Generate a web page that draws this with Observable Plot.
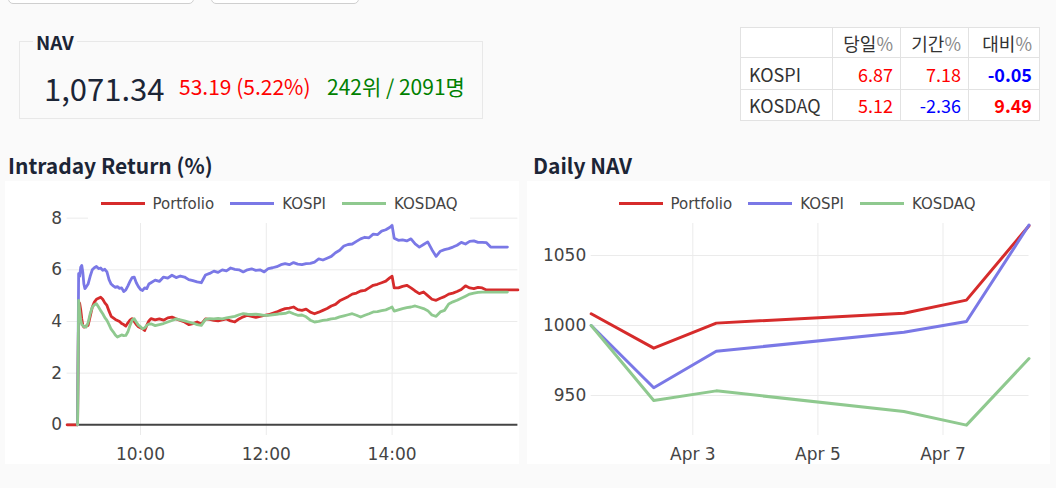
<!DOCTYPE html>
<html>
<head>
<meta charset="utf-8">
<script src="https://cdn.jsdelivr.net/npm/d3@7"></script>
<script src="https://cdn.jsdelivr.net/npm/@observablehq/plot@0.6"></script>
<style>
  html, body { margin: 0; padding: 0; background: #fafafa; }
  #page { position: relative; width: 1056px; height: 488px; overflow: hidden; font-family: "Noto Sans CJK KR", "Noto Sans", sans-serif; color: #1c2536; }
  .abs { position: absolute; }
  .tab-btn { position: absolute; top: -40px; height: 42px; border: 1px solid #cfcfcf; border-radius: 5px; background: #fff; }
  #navbox { left: 19px; top: 41px; width: 462px; height: 76px; border: 1px solid #e8e8e8; }
  #navlabel { left: 33px; top: 32px; padding: 0 3px; font-size: 19px; line-height: 19px; font-weight: 700; background: #fafafa; }
  #navvalue { left: 44px; top: 72px; font-size: 31px; line-height: 31px; color: #1c2536; }
  #navchange { left: 179px; top: 76px; font-size: 21px; line-height: 21px; color: #f00; }
  #navrank { left: 327px; top: 76px; font-size: 21px; line-height: 21px; color: #008000; }
  table.idx { position: absolute; left: 740px; top: 27px; width: 299px; table-layout: fixed; border-collapse: collapse; background: #fff; font-size: 18px; color: #333; }
  table.idx td { border: 1px solid #e2e2e2; padding: 0 7px; text-align: right; white-space: nowrap; overflow: hidden; }
  table.idx td.name { text-align: left; padding-left: 8px; }
  table.idx .pct { color: #888; }
  .title { font-size: 21px; line-height: 22px; font-weight: 700; color: #1c2536; }
  .chartbox { position: absolute; top: 181px; height: 283px; background: #fff; }
  .chartbox svg, .chartbox svg text { font-family: "DejaVu Sans", sans-serif !important; }
  .legend { position: absolute; top: 184px; height: 39px; background: #fff; display: flex; align-items: center; justify-content: center; font-family: "DejaVu Sans", sans-serif; font-size: 15px; color: #444; }
  .legend .item { display: flex; align-items: center; margin: 0 8px; }
  .legend .sw { display: inline-block; width: 44px; height: 3px; margin-right: 8px; }
</style>
</head>
<body>
<div id="page">
  <div class="tab-btn" style="left:8px;width:184px"></div>
  <div class="tab-btn" style="left:211px;width:146px"></div>

  <div id="navbox" class="abs"></div>
  <div id="navlabel" class="abs">NAV</div>
  <div id="navvalue" class="abs"></div>
  <div id="navchange" class="abs"></div>
  <div id="navrank" class="abs"></div>

  <table class="idx" id="idxTable"></table>

  <div class="abs title" style="left:8px;top:154px">Intraday Return (%)</div>
  <div class="abs title" style="left:533px;top:154px">Daily NAV</div>

  <div class="chartbox" id="intraday" style="left:5px;width:514px"></div>
  <div class="chartbox" id="daily" style="left:527px;width:523px"></div>
  <div class="legend" id="legendIntraday" style="left:88px;width:382px"></div>
  <div class="legend" id="legendDaily" style="left:606px;width:382px"></div>
</div>
<script>
// ---- summary figures ----
const navValue = 1071.34;
const navChange = 53.19;
const navChangePct = 5.22;
const navRank = 242;
const navParticipants = 2091;

// index comparison table: 당일% / 기간% / 대비%
const indexNames = ["KOSPI", "KOSDAQ"];
const indexDayPct = [6.87, 5.12];
const indexPeriodPct = [7.18, -2.36];
const indexDiffPct = [-0.05, 9.49];
const tableHeaders = ["당일", "기간", "대비"];

// ---- series ----
const seriesNames = ["Portfolio", "KOSPI", "KOSDAQ"];
const seriesColors = ["#d62b2b", "#7a78e6", "#8fc98f"];

// intraday return (%), sampled through the session
const intradayTimes = [
  "08:50","09:00","09:01","09:02","09:03","09:04","09:05","09:06","09:07","09:08",
  "09:10","09:12","09:14","09:16","09:18","09:20","09:22","09:24","09:26","09:28",
  "09:30","09:32","09:34","09:36","09:38","09:40","09:42","09:44","09:46","09:48",
  "09:50","09:52","09:54","09:56","09:58","10:00","10:02","10:04","10:06","10:08",
  "10:10","10:14","10:18","10:22","10:26","10:30","10:34","10:38","10:42","10:46",
  "10:50","10:54","10:58","11:02","11:06","11:10","11:14","11:18","11:22","11:26",
  "11:30","11:34","11:38","11:42","11:46","11:50","11:54","11:58","12:02","12:06",
  "12:10","12:14","12:18","12:22","12:26","12:30","12:34","12:38","12:42","12:46",
  "12:50","12:54","12:58","13:02","13:06","13:10","13:14","13:18","13:22","13:26",
  "13:30","13:34","13:38","13:42","13:46","13:50","13:54","13:58","14:00","14:02",
  "14:06","14:10","14:14","14:18","14:22","14:26","14:30","14:34","14:38","14:42",
  "14:46","14:50","14:54","14:58","15:02","15:06","15:10","15:14","15:18","15:22",
  "15:26","15:30","15:34","15:38","15:42","15:46","15:50","15:54","16:00"
];
const portfolioReturn = [
  0, 0, 4.75, 4.7, 4.45, 4.1, 3.85, 3.78, 3.8, 3.82,
  3.85, 4.2, 4.55, 4.75, 4.86, 4.9, 4.94, 4.86, 4.72, 4.62,
  4.4, 4.2, 4.14, 4.08, 4.04, 4.0, 3.92, 3.88, 3.82, 3.95,
  4.05, 4.11, 4.0, 3.88, 3.8, 3.76, 3.72, 3.65, 3.85, 4.02,
  4.11, 4.06, 4.1, 4.05, 4.14, 4.17, 4.1, 4.04, 3.98, 3.88,
  3.92, 3.98, 3.9, 4.1, 4.08, 4.04, 4.02, 4.06, 4.1, 4.02,
  3.98, 4.1, 4.18, 4.24, 4.2, 4.16, 4.2, 4.24, 4.26, 4.32,
  4.37, 4.44, 4.5, 4.52, 4.56, 4.46, 4.43, 4.48, 4.36, 4.3,
  4.36, 4.43, 4.5, 4.6, 4.66, 4.8, 4.88, 4.96, 5.06, 5.1,
  5.18, 5.2, 5.3, 5.4, 5.44, 5.5, 5.56, 5.7, 5.75, 5.3,
  5.3, 5.36, 5.4, 5.3, 5.18, 5.08, 5.14, 5.0, 4.86, 4.82,
  4.9, 4.96, 5.06, 5.1, 5.16, 5.24, 5.38, 5.3, 5.27, 5.32,
  5.3, 5.22, 5.22, 5.22, 5.22, 5.22, 5.22, 5.22, 5.22
];
const kospiReturn = [
  null, 0, 5.85, 5.75, 6.1, 6.17, 5.9, 5.45, 5.27, 5.32,
  5.45, 5.75, 6.0, 6.08, 6.13, 6.05, 6.07, 5.98, 6.02, 5.92,
  5.62, 5.45, 5.38, 5.32, 5.35, 5.28, 5.3, 5.16, 5.22, 5.38,
  5.55, 5.7, 5.72, 5.5, 5.35, 5.24, 5.2, 5.3, 5.27, 5.45,
  5.5, 5.6, 5.55, 5.72, 5.68, 5.79, 5.7, 5.76, 5.72, 5.62,
  5.58, 5.53, 5.5, 5.8, 5.86, 5.95, 5.9, 6.0, 5.96, 6.07,
  6.02, 6.0, 5.92, 6.0, 6.04, 5.98, 6.0, 5.92, 6.05, 6.08,
  6.12, 6.2, 6.24, 6.2, 6.28, 6.22, 6.2, 6.24, 6.25, 6.3,
  6.42, 6.38, 6.45, 6.52, 6.66, 6.76, 6.92, 6.98, 7.0, 7.1,
  7.2, 7.26, 7.24, 7.38, 7.36, 7.5, 7.55, 7.65, 7.72, 7.22,
  7.14, 7.16, 7.12, 7.2, 7.0, 6.88, 6.98, 7.08, 6.78, 6.52,
  6.72, 6.78, 6.82, 6.88, 6.95, 7.06, 7.0, 7.1, 7.12, 7.06,
  7.06, 7.05, 6.88, 6.88, 6.88, 6.88, 6.88, null, null
];
const kosdaqReturn = [
  null, 0, 4.82, 4.4, 4.05, 3.88, 3.85, 3.8, 3.8, 3.78,
  3.95, 4.3, 4.55, 4.65, 4.69, 4.56, 4.42, 4.3, 4.15, 4.04,
  3.88, 3.7, 3.6, 3.48, 3.4, 3.44, 3.48, 3.45, 3.46, 3.6,
  3.85, 4.05, 4.11, 3.98, 3.86, 3.8, 3.72, 3.75, 3.85, 3.9,
  3.91, 3.84, 3.88, 3.92, 3.98, 4.04, 4.1, 4.06, 4.02, 3.98,
  3.94, 3.88, 3.85, 4.08, 4.11, 4.1, 4.12, 4.1, 4.14, 4.17,
  4.2, 4.26, 4.3, 4.28, 4.27, 4.28, 4.26, 4.24, 4.24, 4.26,
  4.28, 4.3, 4.31, 4.37, 4.3, 4.24, 4.25, 4.18, 4.05, 3.98,
  4.0, 4.04, 4.06, 4.1, 4.12, 4.18, 4.22, 4.26, 4.3, 4.24,
  4.17, 4.24, 4.3, 4.37, 4.38, 4.42, 4.45, 4.52, 4.56, 4.4,
  4.45, 4.5, 4.54, 4.56, 4.6, 4.55, 4.5, 4.42, 4.25, 4.2,
  4.37, 4.43, 4.68, 4.76, 4.82, 4.9, 4.98, 5.06, 5.1, 5.13,
  5.14, 5.14, 5.14, 5.14, 5.14, 5.14, 5.14, null, null
];
const intradayYTicks = [0, 2, 4, 6, 8];
const intradayXTicks = ["10:00", "12:00", "14:00"];
const intradayRange = ["08:50", "16:00"];

// daily NAV (base 1000)
const dailyDates = ["2020-04-01", "2020-04-02", "2020-04-03", "2020-04-06", "2020-04-07", "2020-04-08"];
const portfolioNav = [1008.4, 983.8, 1001.7, 1008.8, 1018.15, 1071.34];
const kospiNav = [1000, 955.5, 981.6, 995.2, 1002.9, 1071.8];
const kosdaqNav = [1000, 946.4, 953.3, 938.6, 928.8, 976.4];
const dailyYTicks = [950, 1000, 1050];
const dailyXTicks = ["2020-04-03", "2020-04-05", "2020-04-07"];

// ---- header widgets ----
const fmt2 = d3.format(",.2f");
document.getElementById("navvalue").textContent = fmt2(navValue);
document.getElementById("navchange").textContent = `${navChange.toFixed(2)} (${navChangePct.toFixed(2)}%)`;
document.getElementById("navrank").textContent = `${navRank}위 / ${navParticipants}명`;

const table = document.getElementById("idxTable");
const rowHeights = [30, 32, 31];
const colWidths = [92, 68, 68, 71];
{
  const cg = document.createElement("colgroup");
  colWidths.forEach(w => {
    const col = document.createElement("col");
    col.style.width = w + "px";
    cg.appendChild(col);
  });
  table.appendChild(cg);
  const tr = document.createElement("tr");
  tr.style.height = rowHeights[0] + "px";
  tr.appendChild(document.createElement("td"));
  tableHeaders.forEach(h => {
    const td = document.createElement("td");
    td.innerHTML = `${h}<span class="pct">%</span>`;
    tr.appendChild(td);
  });
  table.appendChild(tr);
}
const signColor = v => (v < 0 ? "blue" : "red");
indexNames.forEach((name, r) => {
  const tr = document.createElement("tr");
  tr.style.height = rowHeights[r + 1] + "px";
  const cells = [indexDayPct[r], indexPeriodPct[r], indexDiffPct[r]];
  const tdName = document.createElement("td");
  tdName.className = "name";
  tdName.textContent = name;
  tr.appendChild(tdName);
  cells.forEach((v, c) => {
    const td = document.createElement("td");
    td.textContent = v.toFixed(2);
    td.style.color = signColor(v);
    if (c === 2) td.style.fontWeight = "700";
    tr.appendChild(td);
  });
  table.appendChild(tr);
});

// ---- legends ----
for (const id of ["legendIntraday", "legendDaily"]) {
  const box = document.getElementById(id);
  seriesNames.forEach((name, i) => {
    const item = document.createElement("span");
    item.className = "item";
    item.innerHTML = `<span class="sw" style="background:${seriesColors[i]}"></span><span>${name}</span>`;
    box.appendChild(item);
  });
}

// ---- charts ----
const axisStyle = { fontFamily: "'DejaVu Sans', sans-serif", fontSize: "17px", color: "#444", background: "transparent", overflow: "visible" };
const gridColor = "#ebebeb";

const toTime = s => new Date(`2020-04-08T${s}:00`);
const intradayRows = [];
[portfolioReturn, kospiReturn, kosdaqReturn].forEach((vals, si) => {
  vals.forEach((v, i) => {
    if (v !== null) intradayRows.push({ series: seriesNames[si], time: toTime(intradayTimes[i]), value: v });
  });
});

const intradayChart = Plot.plot({
  width: 514, height: 283,
  marginLeft: 61.6, marginRight: 1.6, marginTop: 14, marginBottom: 29,
  style: axisStyle,
  x: { type: "time", domain: intradayRange.map(toTime), ticks: intradayXTicks.map(toTime), tickFormat: d3.timeFormat("%H:%M"), tickSize: 0, tickPadding: 12, label: null },
  y: { domain: [-0.414, 8.877], ticks: intradayYTicks, tickFormat: d3.format("d"), tickSize: 0, tickPadding: 5, label: null },
  color: { domain: seriesNames, range: seriesColors },
  marks: [
    Plot.ruleX(intradayXTicks.map(toTime), { stroke: gridColor }),
    Plot.ruleY(intradayYTicks.filter(v => v !== 0), { stroke: gridColor }),
    Plot.ruleY([0], { stroke: "#444", strokeWidth: 2 }),
    Plot.line(intradayRows, { x: "time", y: "value", z: "series", stroke: "series", strokeWidth: 2.8, strokeLinejoin: "round" })
  ]
});
document.getElementById("intraday").appendChild(intradayChart);

const toDay = s => new Date(`${s}T09:00:00`);
const toMidnight = s => new Date(`${s}T00:00:00`);
const dailyRows = [];
[portfolioNav, kospiNav, kosdaqNav].forEach((vals, si) => {
  vals.forEach((v, i) => dailyRows.push({ series: seriesNames[si], date: toDay(dailyDates[i]), value: v }));
});

const dailyChart = Plot.plot({
  width: 523, height: 283,
  marginLeft: 63.7, marginRight: 21.5, marginTop: 14, marginBottom: 29,
  style: axisStyle,
  x: { type: "time", domain: [toDay(dailyDates[0]), toDay(dailyDates[dailyDates.length - 1])], ticks: dailyXTicks.map(toMidnight), tickFormat: d3.timeFormat("%b %-d"), tickSize: 0, tickPadding: 12, label: null },
  y: { domain: [921.4, 1092.9], ticks: dailyYTicks, tickFormat: d3.format("d"), tickSize: 0, tickPadding: 5, label: null },
  color: { domain: seriesNames, range: seriesColors },
  marks: [
    Plot.ruleX(dailyXTicks.map(toMidnight), { stroke: gridColor }),
    Plot.ruleY(dailyYTicks, { stroke: gridColor }),
    Plot.line(dailyRows, { x: "date", y: "value", z: "series", stroke: "series", strokeWidth: 3, strokeLinejoin: "round" })
  ]
});
document.getElementById("daily").appendChild(dailyChart);
</script>
</body>
</html>
